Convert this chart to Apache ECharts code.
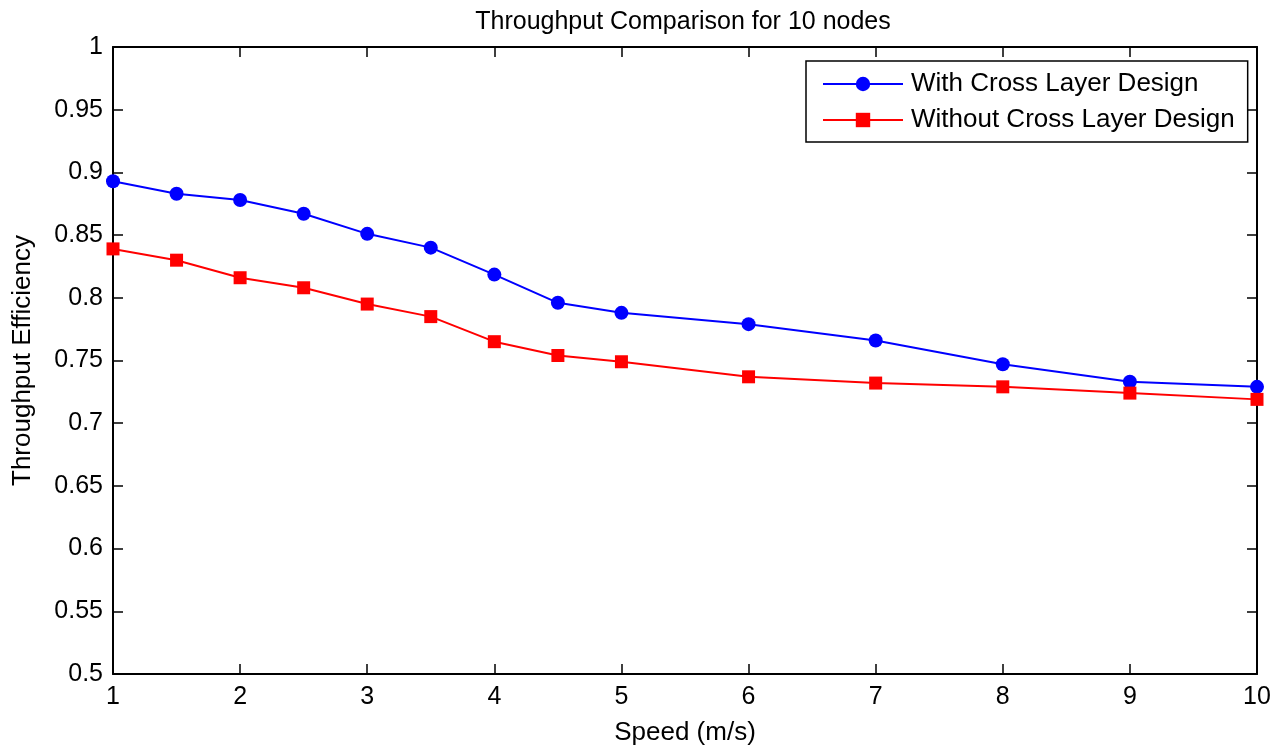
<!DOCTYPE html>
<html>
<head>
<meta charset="utf-8">
<script src="https://cdn.jsdelivr.net/npm/echarts@6/dist/echarts.min.js"></script>
<style>
html,body{margin:0;padding:0;background:#fff;}
#chart{width:1283px;height:751px;}
</style>
</head>
<body>
<div id="chart"></div>
<script>
const speeds = [1, 1.5, 2, 2.5, 3, 3.5, 4, 4.5, 5, 6, 7, 8, 9, 10];
const withCross = [0.893, 0.883, 0.878, 0.867, 0.851, 0.840, 0.8185, 0.796, 0.788, 0.779, 0.766, 0.747, 0.733, 0.729];
const withoutCross = [0.839, 0.830, 0.816, 0.808, 0.795, 0.785, 0.765, 0.754, 0.749, 0.737, 0.732, 0.729, 0.724, 0.719];
const seriesNames = ['With Cross Layer Design', 'Without Cross Layer Design'];
const titleText = 'Throughput Comparison for 10 nodes';
const xName = 'Speed (m/s)';
const yName = 'Throughput Efficiency';

const FONT = '"Liberation Sans", Arial, Helvetica, sans-serif';
const pairs = (xs, ys) => xs.map((x, i) => [x, ys[i]]);

const axisCommon = {
  axisLine: {show: true, lineStyle: {color: '#000', width: 2}},
  axisTick: {show: true, inside: true, length: 10, lineStyle: {color: '#000', width: 1.5}},
  splitLine: {show: false}
};

const chart = echarts.init(document.getElementById('chart'), null, {renderer: 'canvas'});
chart.setOption({
  animation: false,
  backgroundColor: '#fff',
  title: {
    text: titleText,
    left: 678, top: 5, textAlign: 'center',
    textStyle: {fontFamily: FONT, fontSize: 25, fontWeight: 'normal', color: '#000'}
  },
  grid: {left: 113, right: 26, top: 47, bottom: 75, containLabel: false},
  legend: {
    orient: 'vertical',
    left: 806, top: 61,
    padding: [10, 13, 9, 16],
    backgroundColor: '#fff',
    borderColor: '#000', borderWidth: 1.5,
    itemWidth: 80, itemHeight: 18, itemGap: 10,
    textStyle: {fontFamily: FONT, fontSize: 26, color: '#000', padding: [0, 0, 0, 3]},
    data: seriesNames
  },
  xAxis: [
    Object.assign({
      type: 'value', min: 1, max: 10, interval: 1, position: 'bottom',
      name: xName, nameLocation: 'middle', nameGap: 46,
      nameTextStyle: {fontFamily: FONT, fontSize: 26, color: '#000'},
      axisLabel: {fontFamily: FONT, fontSize: 25, color: '#000', margin: 11}
    }, axisCommon),
    Object.assign({
      type: 'value', min: 1, max: 10, interval: 1, position: 'top',
      axisLabel: {show: false}
    }, axisCommon)
  ],
  yAxis: [
    Object.assign({
      type: 'value', min: 0.5, max: 1, interval: 0.05, position: 'left',
      name: yName, nameLocation: 'middle', nameGap: 77,
      nameTextStyle: {fontFamily: FONT, fontSize: 26, color: '#000'},
      axisLabel: {fontFamily: FONT, fontSize: 25, color: '#000', margin: 10,
        formatter: v => String(Math.round(v * 100) / 100)}
    }, axisCommon),
    Object.assign({
      type: 'value', min: 0.5, max: 1, interval: 0.05, position: 'right',
      axisLabel: {show: false}
    }, axisCommon)
  ],
  series: [
    {
      name: seriesNames[0], type: 'line', xAxisIndex: 0, yAxisIndex: 0,
      data: pairs(speeds, withCross),
      symbol: 'circle', symbolSize: 14,
      lineStyle: {color: '#0000ff', width: 2},
      itemStyle: {color: '#0000ff'}
    },
    {
      name: seriesNames[1], type: 'line', xAxisIndex: 0, yAxisIndex: 0,
      data: pairs(speeds, withoutCross),
      symbol: 'rect', symbolSize: 13,
      lineStyle: {color: '#ff0000', width: 2},
      itemStyle: {color: '#ff0000'}
    }
  ]
});
</script>
</body>
</html>
